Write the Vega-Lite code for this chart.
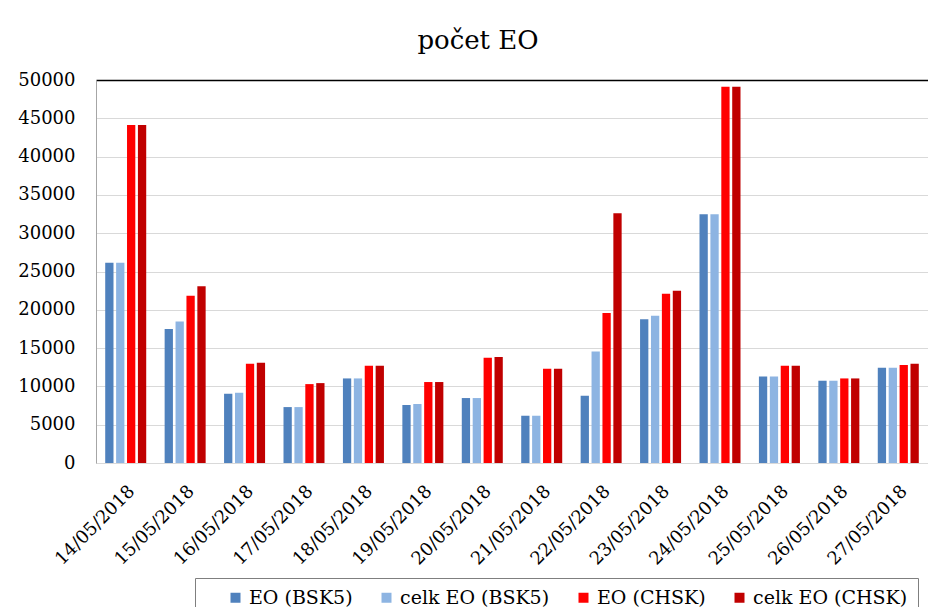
{
  "$schema": "https://vega.github.io/schema/vega-lite/v6.json",
  "width": 832,
  "height": 383,
  "autosize": {"type": "none"},
  "padding": {"left": 96, "top": 80, "right": 0, "bottom": 144},
  "background": "white",
  "title": {"text": "počet EO", "font": "DejaVu Serif", "fontSize": 26, "fontWeight": "normal", "color": "black", "anchor": "middle", "dx": -34, "offset": 17},
  "config": {"view": {"stroke": null}, "font": "DejaVu Serif"},
  "data": {"values": [
    {"date": "14/05/2018", "series": "EO (BSK5)", "value": 26130},
    {"date": "14/05/2018", "series": "celk EO (BSK5)", "value": 26130},
    {"date": "14/05/2018", "series": "EO (CHSK)", "value": 44130},
    {"date": "14/05/2018", "series": "celk EO (CHSK)", "value": 44130},
    {"date": "15/05/2018", "series": "EO (BSK5)", "value": 17480},
    {"date": "15/05/2018", "series": "celk EO (BSK5)", "value": 18480},
    {"date": "15/05/2018", "series": "EO (CHSK)", "value": 21830},
    {"date": "15/05/2018", "series": "celk EO (CHSK)", "value": 23090},
    {"date": "16/05/2018", "series": "EO (BSK5)", "value": 9040},
    {"date": "16/05/2018", "series": "celk EO (BSK5)", "value": 9170},
    {"date": "16/05/2018", "series": "EO (CHSK)", "value": 12960},
    {"date": "16/05/2018", "series": "celk EO (CHSK)", "value": 13090},
    {"date": "17/05/2018", "series": "EO (BSK5)", "value": 7300},
    {"date": "17/05/2018", "series": "celk EO (BSK5)", "value": 7300},
    {"date": "17/05/2018", "series": "EO (CHSK)", "value": 10300},
    {"date": "17/05/2018", "series": "celk EO (CHSK)", "value": 10430},
    {"date": "18/05/2018", "series": "EO (BSK5)", "value": 11040},
    {"date": "18/05/2018", "series": "celk EO (BSK5)", "value": 11040},
    {"date": "18/05/2018", "series": "EO (CHSK)", "value": 12700},
    {"date": "18/05/2018", "series": "celk EO (CHSK)", "value": 12700},
    {"date": "19/05/2018", "series": "EO (BSK5)", "value": 7570},
    {"date": "19/05/2018", "series": "celk EO (BSK5)", "value": 7700},
    {"date": "19/05/2018", "series": "EO (CHSK)", "value": 10570},
    {"date": "19/05/2018", "series": "celk EO (CHSK)", "value": 10570},
    {"date": "20/05/2018", "series": "EO (BSK5)", "value": 8480},
    {"date": "20/05/2018", "series": "celk EO (BSK5)", "value": 8480},
    {"date": "20/05/2018", "series": "EO (CHSK)", "value": 13740},
    {"date": "20/05/2018", "series": "celk EO (CHSK)", "value": 13830},
    {"date": "21/05/2018", "series": "EO (BSK5)", "value": 6170},
    {"date": "21/05/2018", "series": "celk EO (BSK5)", "value": 6170},
    {"date": "21/05/2018", "series": "EO (CHSK)", "value": 12300},
    {"date": "21/05/2018", "series": "celk EO (CHSK)", "value": 12300},
    {"date": "22/05/2018", "series": "EO (BSK5)", "value": 8780},
    {"date": "22/05/2018", "series": "celk EO (BSK5)", "value": 14570},
    {"date": "22/05/2018", "series": "EO (CHSK)", "value": 19570},
    {"date": "22/05/2018", "series": "celk EO (CHSK)", "value": 32610},
    {"date": "23/05/2018", "series": "EO (BSK5)", "value": 18780},
    {"date": "23/05/2018", "series": "celk EO (BSK5)", "value": 19220},
    {"date": "23/05/2018", "series": "EO (CHSK)", "value": 22090},
    {"date": "23/05/2018", "series": "celk EO (CHSK)", "value": 22480},
    {"date": "24/05/2018", "series": "EO (BSK5)", "value": 32480},
    {"date": "24/05/2018", "series": "celk EO (BSK5)", "value": 32480},
    {"date": "24/05/2018", "series": "EO (CHSK)", "value": 49130},
    {"date": "24/05/2018", "series": "celk EO (CHSK)", "value": 49130},
    {"date": "25/05/2018", "series": "EO (BSK5)", "value": 11300},
    {"date": "25/05/2018", "series": "celk EO (BSK5)", "value": 11300},
    {"date": "25/05/2018", "series": "EO (CHSK)", "value": 12700},
    {"date": "25/05/2018", "series": "celk EO (CHSK)", "value": 12700},
    {"date": "26/05/2018", "series": "EO (BSK5)", "value": 10740},
    {"date": "26/05/2018", "series": "celk EO (BSK5)", "value": 10740},
    {"date": "26/05/2018", "series": "EO (CHSK)", "value": 11040},
    {"date": "26/05/2018", "series": "celk EO (CHSK)", "value": 11040},
    {"date": "27/05/2018", "series": "EO (BSK5)", "value": 12430},
    {"date": "27/05/2018", "series": "celk EO (BSK5)", "value": 12430},
    {"date": "27/05/2018", "series": "EO (CHSK)", "value": 12780},
    {"date": "27/05/2018", "series": "celk EO (CHSK)", "value": 12960}
  ]},
  "mark": {"type": "bar"},
  "encoding": {
    "x": {
      "field": "date", "type": "nominal", "sort": null,
      "scale": {"paddingInner": 0.31, "paddingOuter": 0.155},
      "axis": {"title": null, "labelAngle": -45, "labelFont": "DejaVu Serif", "labelFontSize": 18, "labelColor": "black", "ticks": false, "domainColor": "#d9d9d9", "labelPadding": 19, "labelDx": -4}
    },
    "xOffset": {
      "field": "series", "type": "nominal", "sort": ["EO (BSK5)", "celk EO (BSK5)", "EO (CHSK)", "celk EO (CHSK)"],
      "scale": {"paddingInner": 0.24, "paddingOuter": 0}
    },
    "y": {
      "field": "value", "type": "quantitative",
      "scale": {"domain": [0, 50000], "nice": false},
      "axis": {"title": null, "values": [0, 5000, 10000, 15000, 20000, 25000, 30000, 35000, 40000, 45000, 50000], "labelFont": "DejaVu Serif", "labelFontSize": 18, "labelColor": "black", "ticks": false, "labelPadding": 21, "domainColor": "#a6a6a6", "gridColor": {"condition": {"test": "datum.value === 50000", "value": "black"}, "value": "#d9d9d9"}, "gridWidth": {"condition": {"test": "datum.value === 50000", "value": 1.5}, "value": 1}, "format": "d"}
    },
    "color": {
      "field": "series", "type": "nominal",
      "sort": ["EO (BSK5)", "celk EO (BSK5)", "EO (CHSK)", "celk EO (CHSK)"],
      "scale": {"domain": ["EO (BSK5)", "celk EO (BSK5)", "EO (CHSK)", "celk EO (CHSK)"], "range": ["#4F81BD", "#8DB4E2", "#FF0000", "#C00000"]},
      "legend": {"title": null, "orient": "none", "legendX": 99, "legendY": 498, "direction": "horizontal", "columns": 4, "symbolType": "square", "symbolSize": 100, "symbolStrokeWidth": 0, "labelFont": "DejaVu Serif", "labelFontSize": 19, "labelColor": "black", "labelOffset": 4, "columnPadding": 3, "padding": 10, "offset": 0, "strokeColor": "#7f7f7f", "fillColor": "white", "labelLimit": 300, "symbolOffset": 21}
    }
  }
}
